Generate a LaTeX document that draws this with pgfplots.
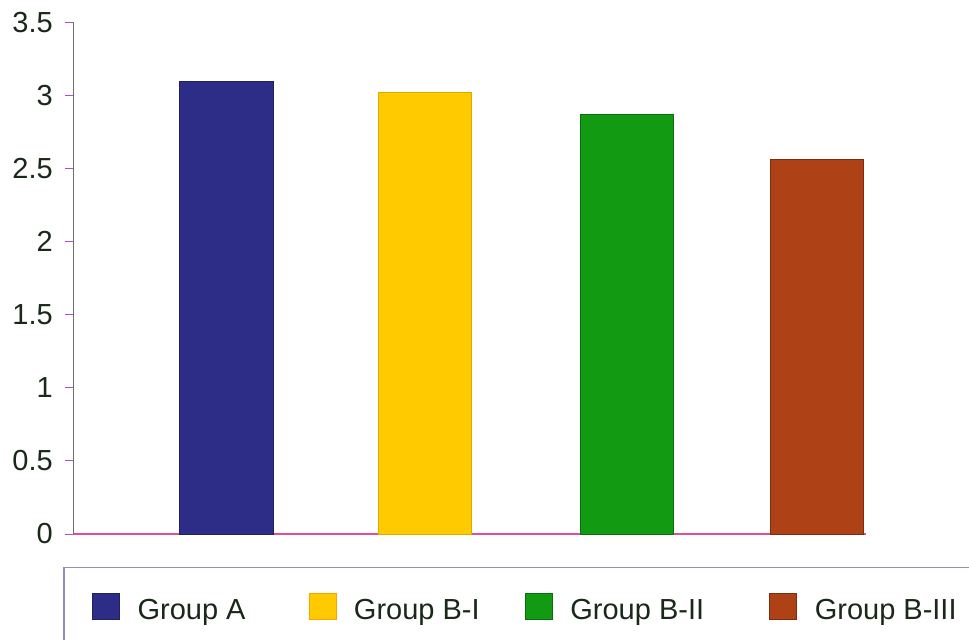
\documentclass[border=0pt]{standalone}
\usepackage{fontspec}
\setmainfont{Liberation Sans}
\usepackage{pgfplots}
\pgfplotsset{compat=1.18}
\definecolor{cA}{RGB}{45,45,135}
\definecolor{cB}{RGB}{255,202,0}
\definecolor{cC}{RGB}{18,155,18}
\definecolor{cD}{RGB}{175,65,22}
\definecolor{xax}{RGB}{225,80,150}
\definecolor{yax}{RGB}{110,110,110}
\definecolor{tk}{RGB}{170,80,200}
\definecolor{txt}{RGB}{25,40,25}
\definecolor{frm}{RGB}{150,140,190}
\begin{document}
\begin{tikzpicture}
\useasboundingbox (0,0) rectangle (969bp,640bp);
\fill[white] (0,0) rectangle (969bp,640bp);
\draw[frm, line width=1.2bp] (64bp,-10bp) -- (64bp,72.3bp) -- (980bp,72.3bp);
\begin{axis}[
  at={(73bp,106bp)}, anchor=south west,
  scale only axis, width=793bp, height=511.7bp,
  xmin=73, xmax=866, ymin=0, ymax=3.5,
  axis x line*=bottom, axis y line*=left,
  axis line style={-},
  x axis line style={draw=xax, line width=1.2bp},
  y axis line style={draw=yax, line width=1bp},
  xtick=\empty,
  ytick={0,0.5,1,1.5,2,2.5,3,3.5},
  tick align=outside, major tick length=8bp,
  ytick style={draw=tk, line width=1bp},
  /pgf/number format/assume math mode=true,
  yticklabel style={font=\fontsize{29bp}{34bp}\selectfont, text=txt, inner sep=0pt, anchor=east, xshift=-12bp},
  legend columns=4,
  legend style={draw=none, fill=none, at={(axis description cs:0.02396,-0.1426)}, anchor=west,
    inner sep=0pt, column sep=0pt,
    font=\fontsize{29bp}{34bp}\selectfont, text=txt,
    nodes={inner sep=0pt},
    /tikz/every odd column/.append style={column sep=18bp}},
  legend cell align=left,
  clip=false,
]
\addplot[ybar, bar width=94, bar shift=0pt, fill=cA, draw=cA!70!black,
  legend image code/.code={\draw[fill=cA, draw=cA!70!black] (0bp,-10bp) rectangle (27bp,16bp);}]
  coordinates {(226,3.10)};
\addlegendentry{\makebox[171bp][l]{Group A}}
\addplot[ybar, bar width=93, bar shift=0pt, fill=cB, draw=cB!85!black,
  legend image code/.code={\draw[fill=cB, draw=cB!80!red] (0bp,-10bp) rectangle (27bp,16bp);}]
  coordinates {(424.5,3.025)};
\addlegendentry{\makebox[171bp][l]{Group B-I}}
\addplot[ybar, bar width=93, bar shift=0pt, fill=cC, draw=cC!70!black,
  legend image code/.code={\draw[fill=cC, draw=cC!70!black] (0bp,-10bp) rectangle (27bp,16bp);}]
  coordinates {(626.5,2.873)};
\addlegendentry{\makebox[199bp][l]{Group B-II}}
\addplot[ybar, bar width=93, bar shift=0pt, fill=cD, draw=cD!70!black,
  legend image code/.code={\draw[fill=cD, draw=cD!70!black] (0bp,-10bp) rectangle (27bp,16bp);}]
  coordinates {(816.5,2.563)};
\addlegendentry{Group B-III}
\end{axis}
\end{tikzpicture}
\end{document}
